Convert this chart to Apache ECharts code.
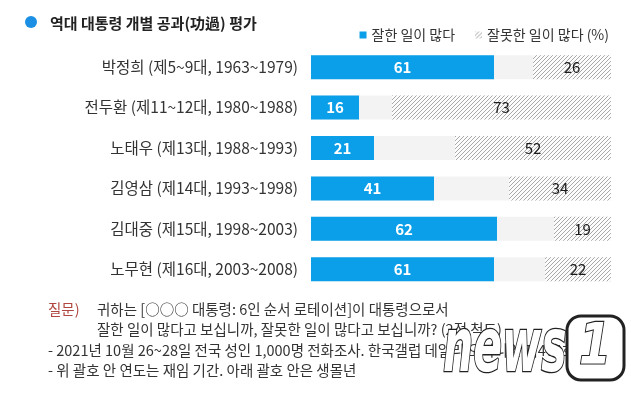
<!DOCTYPE html>
<html><head><meta charset="utf-8">
<script src="https://cdn.jsdelivr.net/npm/echarts@6/dist/echarts.min.js"></script>
<style>html,body{margin:0;padding:0;background:#fff}#c{width:631px;height:395px}</style>
</head><body><div id="c"></div>
<script>
const categories = ['박정희 (제5~9대, 1963~1979)','전두환 (제11~12대, 1980~1988)','노태우 (제13대, 1988~1993)','김영삼 (제14대, 1993~1998)','김대중 (제15대, 1998~2003)','노무현 (제16대, 2003~2008)'];
const goodValues = [61,16,21,41,62,61];
const badValues = [26,73,52,34,19,22];
const seriesNames = ['잘한 일이 많다','잘못한 일이 많다'];
const titleText = '역대 대통령 개별 공과(功過) 평가';
const questionLabel = '질문)';
const questionLines = ['귀하는 [○○○ 대통령: 6인 순서 로테이션]이 대통령으로서','잘한 일이 많다고 보십니까, 잘못한 일이 많다고 보십니까? (2점 척도)'];
const noteLines = ['- 2021년 10월 26~28일 전국 성인 1,000명 전화조사. 한국갤럽 데일리 오피니언 제474호','- 위 괄호 안 연도는 재임 기간. 아래 괄호 안은 생몰년'];

const FONT = "'Noto Sans CJK KR', sans-serif";
function hatch(){
  const s=4, c=document.createElement('canvas'); c.width=s; c.height=s;
  const g=c.getContext('2d'); g.fillStyle='#fcfcfc'; g.fillRect(0,0,s,s);
  g.strokeStyle='#a8a8a8'; g.lineWidth=1;
  g.beginPath(); g.moveTo(0,s); g.lineTo(s,0); g.moveTo(-1,1); g.lineTo(1,-1); g.moveTo(s-1,s+1); g.lineTo(s+1,s-1); g.stroke();
  return c;
}
const chart = echarts.init(document.getElementById('c'));
const txt = (x,y,t,extra) => ({type:'text',x,y,style:Object.assign({text:t,fill:'#333',fontSize:14.5,fontFamily:FONT,verticalAlign:'middle'},extra||{})});
chart.setOption({
  animation:false,
  textStyle:{fontFamily:FONT},
  title:{text:titleText,left:45,top:11,textStyle:{fontSize:15,fontWeight:'bold',color:'#222',fontFamily:FONT}},
  legend:{right:17,top:23,icon:'rect',itemWidth:7,itemHeight:7,itemGap:20,
    textStyle:{fontSize:14,color:'#333'},
    formatter:n=> n===seriesNames[1] ? n+' (%)' : n},
  grid:{left:311,right:20,top:47,bottom:105.6},
  xAxis:[{type:'value',min:0,max:100,show:false},{type:'value',min:0,max:100,inverse:true,show:false}],
  yAxis:{type:'category',data:categories,inverse:true,axisLine:{show:false},axisTick:{show:false},splitLine:{show:false},
    axisLabel:{color:'#333',fontSize:15.5,margin:13}},
  series:[
    {name:seriesNames[0],type:'bar',data:goodValues,barWidth:24,xAxisIndex:0,
     showBackground:true,backgroundStyle:{color:'#f3f3f3'},
     itemStyle:{color:'#0a9fe8'},
     label:{show:true,position:'inside',color:'#fff',fontWeight:'bold',fontSize:15}},
    {name:seriesNames[1],type:'bar',data:badValues,barWidth:24,xAxisIndex:1,barGap:'-100%',
     itemStyle:{color:{image:hatch(),repeat:'repeat'}},
     label:{show:true,position:'inside',color:'#1a1a1a',fontSize:15}}
  ],
  graphic:[
    {type:'circle',shape:{cx:31,cy:22,r:6},style:{fill:'#1b8fe3'}},
    txt(48,309,questionLabel,{fill:'#b0463f'}),
    txt(97,309,questionLines[0]),
    txt(97,329,questionLines[1]),
    txt(48,350,noteLines[0]),
    txt(48,370,noteLines[1]),
    {type:'group',z:100,children:[
      {type:'text',x:443,y:352,scaleX:0.85,scaleY:1.5,style:{text:'news',fill:'#fff',stroke:'#222',lineWidth:1.8,font:'italic bold 50px "DejaVu Sans"',verticalAlign:'middle'}},
      {type:'rect',shape:{x:567,y:316,width:57,height:64,r:14},style:{fill:'#fff',stroke:'#222',lineWidth:3}},
      {type:'text',x:595,y:349,scaleY:1.25,style:{text:'1',fill:'#fff',stroke:'#222',lineWidth:1.8,font:'italic bold 46px "DejaVu Sans"',align:'center',verticalAlign:'middle'}}
    ]}
  ]
});
</script></body></html>
